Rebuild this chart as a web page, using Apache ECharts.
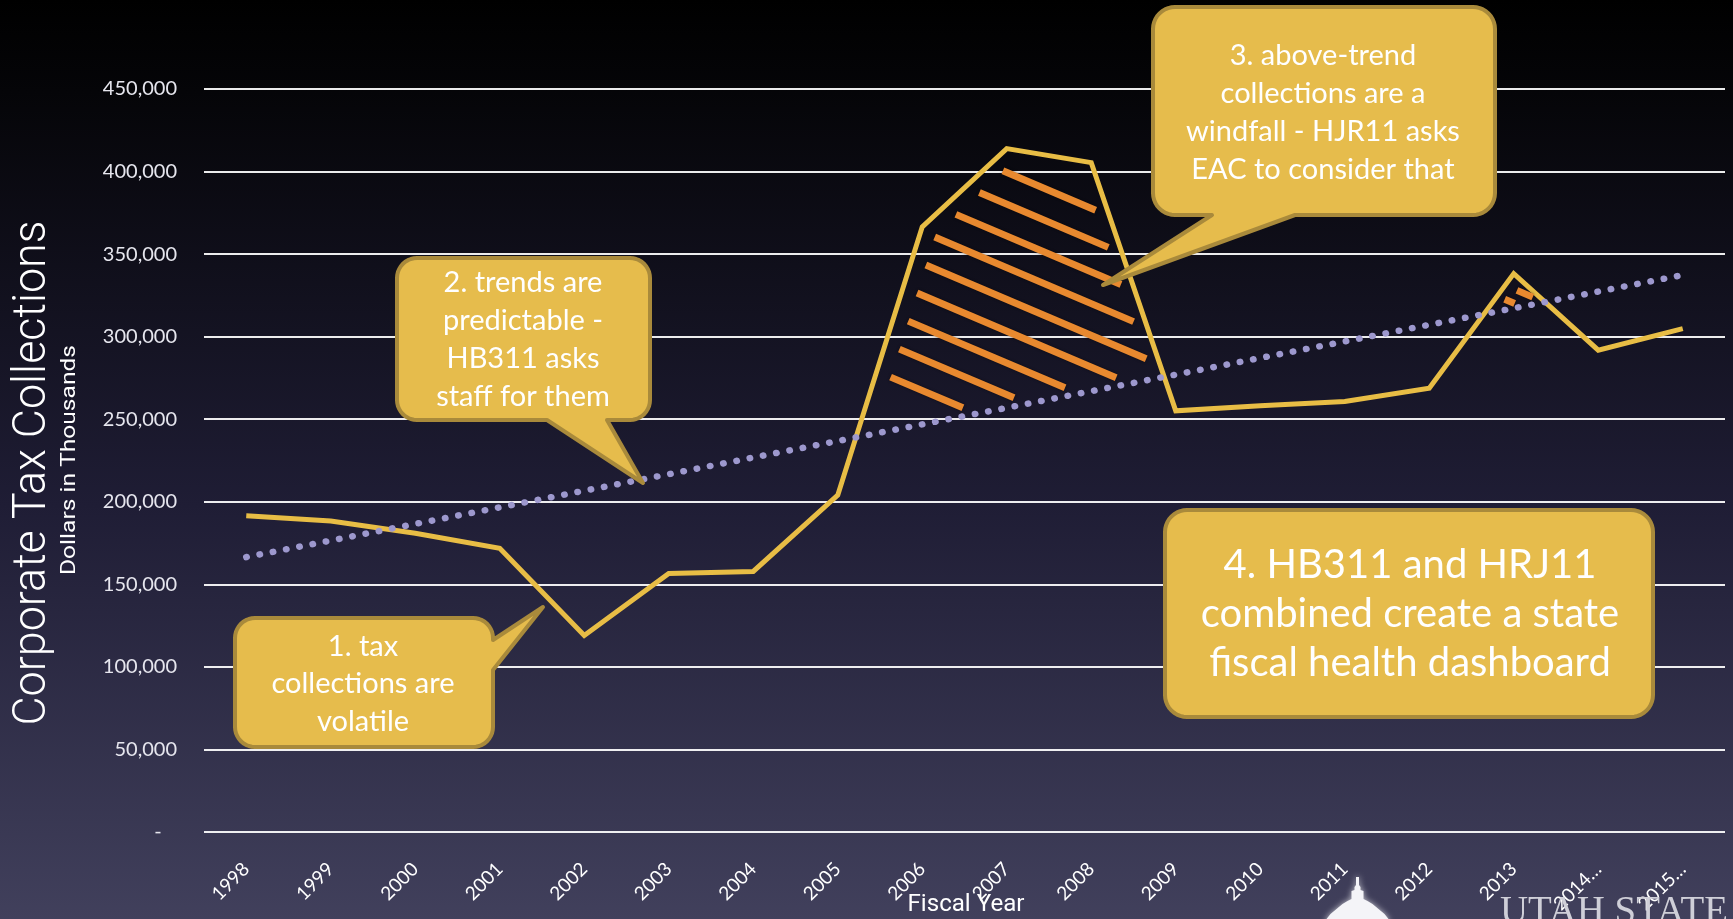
<!DOCTYPE html>
<html><head><meta charset="utf-8">
<script src="https://cdn.jsdelivr.net/npm/echarts@6/dist/echarts.min.js"></script>
<style>html,body{margin:0;padding:0;background:#000;}#c{width:1733px;height:919px;}</style>
</head><body><div id="c"></div>
<script>
// ---- data (dollars in thousands) ----
const categories = ['1998','1999','2000','2001','2002','2003','2004','2005','2006','2007','2008','2009','2010','2011','2012','2013','2014…','2015…'];
const collections = [191500,188300,180900,171800,119000,156500,157800,204000,366500,413900,405400,255100,258200,260800,268800,338200,291800,304900];
const trend = [166500,176500,186600,196600,206700,216700,226800,236800,246900,256900,267000,277000,287100,297100,307200,317200,327300,337300];
const windfallYears = ['2006','2007','2008','2013'];
const yAxisTitle = 'Corporate Tax Collections';
const yAxisSubtitle = 'Dollars in Thousands';
const xAxisTitle = 'Fiscal Year';
const calloutTexts = [
  '1. tax\ncollections are\nvolatile',
  '2. trends are\npredictable -\nHB311 asks\nstaff for them',
  '3. above-trend\ncollections are a\nwindfall - HJR11 asks\nEAC to consider that',
  '4. HB311 and HRJ11\ncombined create a state\nfiscal health dashboard'
];
const logoText = 'UTAH STATE';

// ---- helpers ----
const mctx = document.createElement('canvas').getContext('2d');
function textW(t, font){ mctx.font = font; return mctx.measureText(t).width; }

function calloutPoints(x, y, w, h, r, tail){
  const pts = [];
  function arc(cx, cy, a0, a1){
    const n = 10;
    for (let i=0;i<=n;i++){ const a=(a0+(a1-a0)*i/n)*Math.PI/180; pts.push([cx+r*Math.cos(a), cy+r*Math.sin(a)]); }
  }
  arc(x+w-r, y+r, -90, 0);
  if (tail && tail.side==='right'){ pts.push([x+w, tail.a], tail.tip, [x+w, tail.b]); }
  arc(x+w-r, y+h-r, 0, 90);
  if (tail && tail.side==='bottom'){ pts.push([tail.a, y+h], tail.tip, [tail.b, y+h]); }
  arc(x+r, y+h-r, 90, 180);
  arc(x+r, y+r, 180, 270);
  return pts;
}

function hatch(params, api){
  const m = 0.425;
  const A = [], T = [];
  for (let i=0;i<categories.length;i++){ A.push(api.coord([i, collections[i]])); T.push(api.coord([i, trend[i]])); }
  const regions=[]; let cur=null;
  for (let i=0;i<A.length;i++){
    const d = T[i][1]-A[i][1];
    if (i>0){
      const d0 = T[i-1][1]-A[i-1][1];
      if ((d0>0)!==(d>0)){
        const t = d0/(d0-d);
        const p=[A[i-1][0]+t*(A[i][0]-A[i-1][0]), A[i-1][1]+t*(A[i][1]-A[i-1][1])];
        if (d>0){ cur={up:[p],lo:[p],idx:[]}; } else if (cur){ cur.up.push(p); regions.push(cur); cur=null; }
      }
    }
    if (d>0){ if(!cur) cur={up:[],lo:[],idx:[]}; cur.up.push(A[i]); cur.lo.push(T[i]); cur.idx.push(i); }
  }
  if (cur) regions.push(cur);
  const children=[];
  regions.forEach(r=>{
    if (!r.idx.some(i=>windfallYears.indexOf(categories[i])>=0)) return;
    const poly = r.up.concat(r.lo.slice().reverse());
    let ymin=Infinity,ymax=-Infinity,cmin=Infinity,cmax=-Infinity;
    poly.forEach(p=>{ ymin=Math.min(ymin,p[1]); ymax=Math.max(ymax,p[1]); const c=p[1]-m*p[0]; cmin=Math.min(cmin,c); cmax=Math.max(cmax,c); });
    const big = ymax-ymin>80;
    const sp = big?31.75:14, ph = big?-1.4:9.7, minLen = big?60:5;
    const k2=Math.sqrt(1+m*m);
    for (let k=Math.ceil((cmin-ph)/sp); k<=Math.floor((cmax-ph)/sp); k++){
      const c = ph + k*sp;
      const xs=[];
      for (let j=0;j<poly.length;j++){
        const q1=poly[j], q2=poly[(j+1)%poly.length];
        const f1=q1[1]-m*q1[0]-c, f2=q2[1]-m*q2[0]-c;
        if ((f1<0&&f2>=0)||(f1>=0&&f2<0)){ const t=f1/(f1-f2); xs.push(q1[0]+t*(q2[0]-q1[0])); }
      }
      xs.sort((a,b)=>a-b);
      for (let j=0;j+1<xs.length;j+=2){
        const L=(xs[j+1]-xs[j])*k2;
        const ins=Math.min(15,0.3*L);
        if (L-2*ins<minLen) continue;
        const x1=xs[j]+ins/k2, x2=xs[j+1]-ins/k2;
        children.push({type:'line', shape:{x1:x1,y1:m*x1+c,x2:x2,y2:m*x2+c},
          style:{stroke:'#e8892f', lineWidth:7, shadowBlur:3, shadowColor:'rgba(0,0,0,0.45)'}});
      }
    }
  });
  return {type:'group', children:children};
}

const GOLD_FILL = '#e6bc4c', GOLD_STROKE = '#a98a3b';
const callouts = [
  {box:[235,618,258,129,20], tail:{side:'right',a:640,b:670,tip:[543,607]}, text:[363,684], fs:29, lh:37.5},
  {box:[397,258,253,162,20], tail:{side:'bottom',a:607,b:547,tip:[643,483]}, text:[523,340], fs:29, lh:38},
  {box:[1153,7,342,208,22], tail:{side:'bottom',a:1295,b:1212,tip:[1103,285]}, text:[1323,113], fs:29, lh:38},
  {box:[1165,510,488,207,22], tail:null, text:[1410,614], fs:40, lh:49}
];

const graphics = [];
callouts.forEach((c,i)=>{
  const b=c.box;
  graphics.push({type:'polygon', z:100, shape:{points:calloutPoints(b[0],b[1],b[2],b[3],b[4],c.tail)},
    style:{fill:GOLD_FILL, stroke:GOLD_STROKE, lineWidth:4, lineJoin:'round'}});
  graphics.push({type:'text', z:101, x:c.text[0], y:c.text[1],
    style:{text:calloutTexts[i], fill:'#ffffff', fontSize:c.fs, fontFamily:'Lato', align:'center', verticalAlign:'middle', textAlign:'center', textVerticalAlign:'middle', lineHeight:c.lh}});
});

const tFont='300 46px Roboto';
graphics.push({type:'text', z:50, x:33, y:473, rotation:Math.PI/2, scaleX:505/textW(yAxisTitle,tFont),
  style:{text:yAxisTitle, fill:'#ffffff', fontSize:46, fontWeight:300, fontFamily:'Roboto', align:'center', verticalAlign:'middle', textAlign:'center', textVerticalAlign:'middle'}});
const sFont='400 21px Roboto';
graphics.push({type:'text', z:50, x:70, y:460, rotation:Math.PI/2, scaleX:230/textW(yAxisSubtitle,sFont),
  style:{text:yAxisSubtitle, fill:'#ffffff', fontSize:21, fontWeight:400, fontFamily:'Roboto', align:'center', verticalAlign:'middle', textAlign:'center', textVerticalAlign:'middle'}});
const fFont='400 23px Roboto';
graphics.push({type:'text', z:50, x:966, y:905, scaleX:117/textW(xAxisTitle,fFont),
  style:{text:xAxisTitle, fill:'#ffffff', fontSize:23, fontWeight:400, fontFamily:'Roboto', align:'center', verticalAlign:'middle', textAlign:'center', textVerticalAlign:'middle'}});

// logo: dome + text
const half = [[1.5,877],[1.5,885],[3,887],[3,890],[6,891],[6,899],[10,901],[15,904],[21,909],[27,914],[31,919],[31,925]];
const cx = 1357.5;
const dome = half.map(p=>[cx+p[0],p[1]]).concat(half.slice().reverse().map(p=>[cx-p[0],p[1]]));
graphics.push({type:'polygon', z:50, shape:{points:dome}, style:{fill:'#f4f4f8', shadowBlur:6, shadowColor:'rgba(255,255,255,0.7)'}});
const lFont='40px "Liberation Serif"';
graphics.push({type:'text', z:50, x:1500, y:892, scaleX:228/textW(logoText,lFont),
  style:{text:logoText, fill:'#cfcfd8', fontSize:40, fontFamily:'Liberation Serif', align:'left', verticalAlign:'top', textAlign:'left', textVerticalAlign:'top'}});

const chart = echarts.init(document.getElementById('c'));
chart.setOption({
  animation:false,
  backgroundColor:{type:'linear', x:0, y:0, x2:0, y2:1, colorStops:[
    {offset:0, color:'#000000'},{offset:0.1, color:'#050508'},{offset:0.55, color:'#1f1d35'},{offset:1, color:'#41405c'}]},
  grid:{left:204, right:8, top:89, bottom:87, containLabel:false},
  xAxis:{type:'category', data:categories, boundaryGap:true,
    axisLine:{show:false}, axisTick:{show:false},
    axisLabel:{rotate:45, margin:34, interval:0, color:'#ffffff', fontSize:19, fontFamily:'Lato'}},
  yAxis:{type:'value', min:0, max:450000, interval:50000,
    axisLine:{show:false}, axisTick:{show:false},
    splitLine:{show:true, lineStyle:{color:'rgba(255,255,255,0.92)', width:2}},
    axisLabel:{margin:27, color:'#e6e6ee', fontSize:20, fontFamily:'Lato',
      formatter:v=> v===0 ? '-   ' : v.toLocaleString('en-US')}},
  graphic:graphics,
  series:[
    {type:'line', data:collections, symbol:'none', silent:true, z:2,
      lineStyle:{color:'#e8bd45', width:5, join:'miter'}},
    {type:'custom', data:[[0,0]], renderItem:hatch, silent:true, z:3},
    {type:'line', data:trend, symbol:'none', silent:true, z:4,
      lineStyle:{color:'#9d98ce', width:6.5, type:[0.5,13], cap:'round'}}
  ]
});
</script></body></html>
